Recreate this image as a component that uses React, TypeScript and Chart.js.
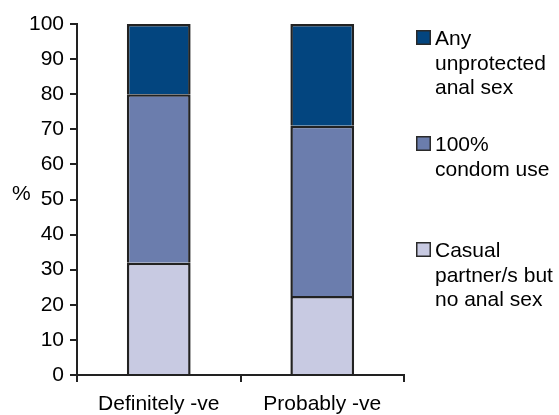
import React, { useEffect, useRef } from "react";
import { Chart, registerables } from "chart.js";

Chart.register(...registerables);

const categories = ["Definitely -ve", "Probably -ve"];
const casualNoAnalSex = [32, 22.5];
const condomUse100 = [48, 48.5];
const anyUnprotected = [20, 29];
const seriesLines = [
  ["Casual", "partner/s but", "no anal sex"],
  ["100%", "condom use"],
  ["Any", "unprotected", "anal sex"],
];
const seriesColors = ["#C8CAE2", "#6B7DAD", "#03457F"];
const yMin = 0;
const yMax = 100;
const yStep = 10;
const yAxisTitle = "%";

const FONT = "'Liberation Sans', Arial, sans-serif";
const INK = "#222222";

const sideLegend = {
  id: "sideLegend",
  afterDraw(chart: any) {
    const ctx = chart.ctx as CanvasRenderingContext2D;
    const ds = chart.data.datasets;
    ctx.save();
    ctx.font = `21px ${FONT}`;
    ctx.textAlign = "left";
    ctx.textBaseline = "alphabetic";
    const firstBaselines = [45, 151, 257];
    const order = [2, 1, 0];
    order.forEach((di, i) => {
      const b = firstBaselines[i];
      ctx.fillStyle = ds[di].backgroundColor;
      ctx.fillRect(416, b - 15, 15, 15);
      ctx.strokeStyle = "#2a2a2a";
      ctx.lineWidth = 1.5;
      ctx.strokeRect(416.75, b - 14.25, 13.5, 13.5);
      ctx.fillStyle = "#000";
      seriesLines[di].forEach((t, k) => ctx.fillText(t, 435, b + k * 24.5));
    });
    ctx.textBaseline = "middle";
    ctx.fillStyle = "#000";
    ctx.fillText(yAxisTitle, 12, 194);
    ctx.restore();
  },
};

export default function App() {
  const ref = useRef<HTMLCanvasElement | null>(null);
  useEffect(() => {
    if (!ref.current) return;
    const values = [casualNoAnalSex, condomUse100, anyUnprotected];
    const chart = new Chart(ref.current, {
      type: "bar",
      data: {
        labels: categories,
        datasets: values.map((v, i) => ({
          label: seriesLines[i].join(" "),
          data: v,
          backgroundColor: seriesColors[i],
          borderColor: INK,
          borderWidth: 2.5,
          borderSkipped: "start",
          categoryPercentage: 1,
          barPercentage: 0.39,
        })),
      },
      options: {
        animation: false,
        responsive: false,
        events: [],
        layout: { padding: { top: 24, right: 155, left: 0, bottom: 0 } },
        plugins: { legend: { display: false }, tooltip: { enabled: false } },
        scales: {
          x: {
            stacked: true,
            afterFit: (s: any) => {
              s.height = 40;
            },
            grid: {
              display: true,
              offset: true,
              drawOnChartArea: false,
              drawTicks: true,
              tickLength: 7,
              color: INK,
              lineWidth: 2,
            },
            border: { display: true, color: INK, width: 2 },
            ticks: {
              color: "#000",
              font: { family: FONT, size: 21 },
              padding: 10,
              maxRotation: 0,
            },
          },
          y: {
            stacked: true,
            min: yMin,
            max: yMax,
            afterFit: (s: any) => {
              s.width = 77;
            },
            grid: {
              display: true,
              drawOnChartArea: false,
              drawTicks: true,
              tickLength: 7,
              color: INK,
              lineWidth: 2,
            },
            border: { display: true, color: INK, width: 2 },
            ticks: {
              stepSize: yStep,
              color: "#000",
              font: { family: FONT, size: 21 },
              padding: 6,
            },
          },
        },
      },
      plugins: [sideLegend],
    });
    return () => chart.destroy();
  }, []);
  return (
    <div style={{ position: "absolute", left: 0, top: 0, width: 559, height: 415, background: "#fff" }}>
      <canvas ref={ref} width={559} height={415} style={{ display: "block" }} />
    </div>
  );
}
